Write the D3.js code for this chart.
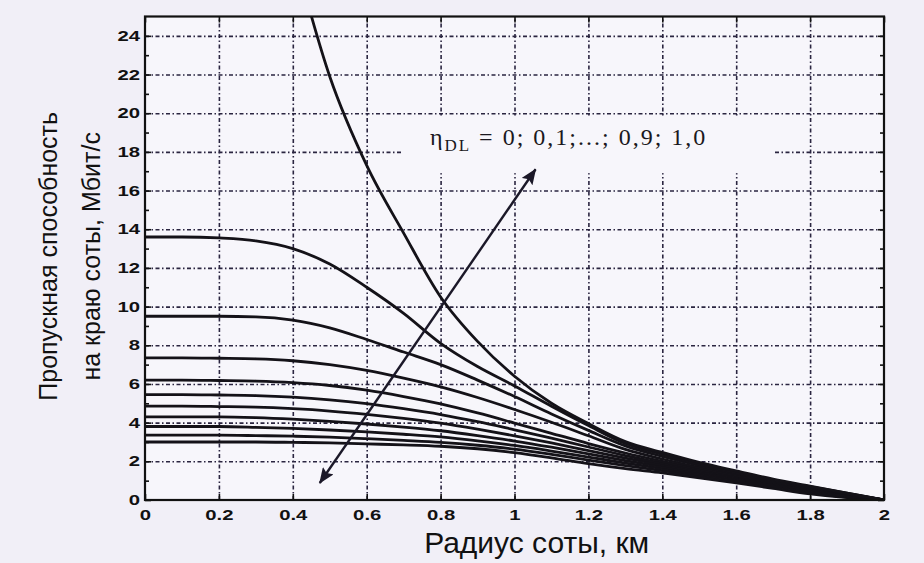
<!DOCTYPE html>
<html>
<head>
<meta charset="utf-8">
<script src="https://cdn.jsdelivr.net/npm/d3@7"></script>
<style>
    body { margin: 0; background: #f1eff7; }
    svg { display: block; }
</style>
</head>
<body>
<svg id="vis"></svg>
<script>
const WIDTH = 924;
const HEIGHT = 563;

// cell radius, km
const radius = [0, 0.1, 0.2, 0.3, 0.4, 0.5, 0.6, 0.7, 0.8, 0.9, 1.0, 1.1, 1.2, 1.3, 1.4, 1.5, 1.6, 1.7, 1.8, 1.9, 2.0];

// edge throughput, Mbit/s, one array per eta_DL
const eta00 = [3.0, 3.0, 3.0, 3.0, 2.98, 2.95, 2.9, 2.85, 2.78, 2.65, 2.45, 2.18, 1.88, 1.62, 1.4, 1.15, 0.88, 0.6, 0.32, 0.12, 0];
const eta01 = [3.35, 3.35, 3.35, 3.33, 3.3, 3.25, 3.17, 3.08, 2.98, 2.83, 2.63, 2.36, 2.06, 1.78, 1.52, 1.24, 0.95, 0.66, 0.38, 0.15, 0];
const eta02 = [3.8, 3.8, 3.8, 3.76, 3.7, 3.62, 3.52, 3.4, 3.26, 3.06, 2.82, 2.53, 2.22, 1.91, 1.62, 1.32, 1.02, 0.72, 0.43, 0.18, 0];
const eta03 = [4.3, 4.3, 4.3, 4.26, 4.18, 4.07, 3.93, 3.77, 3.58, 3.33, 3.05, 2.73, 2.38, 2.04, 1.72, 1.4, 1.08, 0.77, 0.48, 0.21, 0];
const eta04 = [4.85, 4.85, 4.83, 4.8, 4.72, 4.6, 4.43, 4.22, 3.97, 3.66, 3.32, 2.95, 2.55, 2.17, 1.82, 1.47, 1.13, 0.82, 0.52, 0.24, 0];
const eta05 = [5.45, 5.45, 5.43, 5.4, 5.32, 5.18, 4.98, 4.72, 4.42, 4.05, 3.63, 3.2, 2.74, 2.3, 1.91, 1.54, 1.18, 0.86, 0.56, 0.27, 0];
const eta06 = [6.2, 6.2, 6.18, 6.15, 6.07, 5.92, 5.68, 5.35, 4.97, 4.5, 3.98, 3.45, 2.92, 2.43, 2.0, 1.6, 1.23, 0.9, 0.6, 0.3, 0];
const eta07 = [7.35, 7.35, 7.33, 7.3, 7.2, 7.0, 6.7, 6.3, 5.85, 5.3, 4.68, 4.02, 3.32, 2.62, 2.12, 1.68, 1.29, 0.94, 0.63, 0.32, 0];
const eta08 = [9.5, 9.5, 9.5, 9.47, 9.3, 8.9, 8.3, 7.65, 7.0, 6.2, 5.35, 4.45, 3.6, 2.8, 2.25, 1.78, 1.36, 0.98, 0.66, 0.33, 0];
const eta09 = [13.6, 13.6, 13.55, 13.4, 13.0, 12.2, 11.0, 9.65, 8.1, 6.9, 5.9, 4.85, 3.85, 2.92, 2.36, 1.86, 1.42, 1.03, 0.69, 0.35, 0];
const eta10 = [null, null, null, null, 28.5, 21.9, 17.3, 13.8, 10.5, 8.2, 6.4, 5.0, 3.95, 3.02, 2.46, 1.94, 1.5, 1.08, 0.72, 0.36, 0];

const allSeries = [eta00, eta01, eta02, eta03, eta04, eta05, eta06, eta07, eta08, eta09, eta10];

const xTicks = [0, 0.2, 0.4, 0.6, 0.8, 1, 1.2, 1.4, 1.6, 1.8, 2];
const xTickLabels = ["0", "0.2", "0.4", "0.6", "0.8", "1", "1.2", "1.4", "1.6", "1.8", "2"];
const yTicks = [0, 2, 4, 6, 8, 10, 12, 14, 16, 18, 20, 22, 24];
const yMinorTicks = [1, 3, 5, 7, 9, 11, 13, 15, 17, 19, 21, 23];

const xTitle = "Радиус соты, км";
const yTitle1 = "Пропускная способность";
const yTitle2 = "на краю соты,  Мбит/с";
const noteText = " = 0; 0,1;...; 0,9; 1,0";

const x = d3.scaleLinear().domain([0, 2]).range([145, 884]);
const y = d3.scaleLinear().domain([0, 25]).range([500, 16.5]);

const svg = d3.select("#vis")
    .attr("width", WIDTH)
    .attr("height", HEIGHT);

// plot background
svg.append("rect")
    .attr("x", x(0)).attr("y", y(25))
    .attr("width", x(2) - x(0)).attr("height", y(0) - y(25))
    .attr("fill", "#f7f6fb");

svg.append("clipPath").attr("id", "plotclip")
    .append("rect")
    .attr("x", x(0)).attr("y", y(25))
    .attr("width", x(2) - x(0)).attr("height", y(0) - y(25));

// dotted grid
const gridStyle = function(g) {
    g.select(".domain").remove();
    g.selectAll("line")
        .attr("stroke", "#2a2540")
        .attr("stroke-width", 1.6)
        .attr("stroke-dasharray", "4,2.5,1.5,2.5");
};
svg.append("g")
    .attr("transform", "translate(0," + y(0) + ")")
    .call(d3.axisBottom(x).tickValues(xTicks.slice(1, -1)).tickSize(-(y(0) - y(25))).tickFormat(""))
    .call(gridStyle);
svg.append("g")
    .attr("transform", "translate(" + x(0) + ",0)")
    .call(d3.axisLeft(y).tickValues(yTicks.slice(1)).tickSize(-(x(2) - x(0))).tickFormat(""))
    .call(gridStyle);

// box behind the annotation (hides grid there)
svg.append("rect")
    .attr("x", x(0.697)).attr("y", y(19.85))
    .attr("width", x(1.705) - x(0.697)).attr("height", y(16.9) - y(19.85))
    .attr("fill", "#f7f6fb");

// curves
const line = d3.line()
    .defined(function(d) { return d[1] !== null; })
    .x(function(d) { return x(d[0]); })
    .y(function(d) { return y(d[1]); })
    .curve(d3.curveMonotoneX);

svg.append("g")
    .attr("clip-path", "url(#plotclip)")
    .selectAll("path")
    .data(allSeries)
    .enter()
    .append("path")
    .attr("d", function(s) {
        return line(s.map(function(v, i) { return [radius[i], v]; }));
    })
    .attr("fill", "none")
    .attr("stroke", "#141218")
    .attr("stroke-width", 2.8)
    .attr("stroke-linejoin", "round");

// ticks (labels of the scan are wide, so stretch them sideways)
const TICK_STRETCH = 1.45;
const tickStyle = function(g) {
    g.select(".domain").remove();
    g.selectAll("line").attr("stroke", "#111").attr("stroke-width", 1.6);
    g.selectAll("text")
        .attr("fill", "#111")
        .attr("transform", "scale(" + TICK_STRETCH + ",1)")
        .style("font-family", "'Liberation Sans', Arial, sans-serif")
        .style("font-size", "14px")
        .style("font-weight", "bold");
};
svg.append("g")
    .attr("transform", "translate(0," + y(0) + ")")
    .call(d3.axisBottom(x).tickValues(xTicks).tickSize(-6).tickPadding(10)
        .tickFormat(function(d, i) { return xTickLabels[i]; }))
    .call(tickStyle);
svg.append("g")
    .attr("transform", "translate(0," + y(25) + ")")
    .call(d3.axisTop(x).tickValues(xTicks).tickSize(-6).tickFormat(""))
    .call(tickStyle);
svg.append("g")
    .attr("transform", "translate(" + x(0) + ",0)")
    .call(d3.axisLeft(y).tickValues(yTicks).tickSize(-6).tickPadding(5 / TICK_STRETCH))
    .call(tickStyle);
svg.append("g")
    .attr("transform", "translate(" + x(0) + ",0)")
    .call(d3.axisLeft(y).tickValues(yMinorTicks).tickSize(-4).tickFormat(""))
    .call(tickStyle);
svg.append("g")
    .attr("transform", "translate(" + x(2) + ",0)")
    .call(d3.axisRight(y).tickValues(yTicks).tickSize(-6).tickFormat(""))
    .call(tickStyle);
svg.append("g")
    .attr("transform", "translate(" + x(2) + ",0)")
    .call(d3.axisRight(y).tickValues(yMinorTicks).tickSize(-4).tickFormat(""))
    .call(tickStyle);

// frame
svg.append("rect")
    .attr("x", x(0)).attr("y", y(25))
    .attr("width", x(2) - x(0)).attr("height", y(0) - y(25))
    .attr("fill", "none")
    .attr("stroke", "#111")
    .attr("stroke-width", 2.2);

// double arrow
svg.append("defs").append("marker")
    .attr("id", "head")
    .attr("viewBox", "0 0 16 13")
    .attr("refX", 15).attr("refY", 6.5)
    .attr("markerWidth", 16).attr("markerHeight", 13)
    .attr("markerUnits", "userSpaceOnUse")
    .attr("orient", "auto-start-reverse")
    .append("path")
    .attr("d", "M0,0 L16,6.5 L0,13 L3,6.5 z")
    .attr("fill", "#1b1828");

svg.append("line")
    .attr("x1", x(0.473)).attr("y1", y(0.88))
    .attr("x2", x(1.057)).attr("y2", y(17.1))
    .attr("stroke", "#1b1828")
    .attr("stroke-width", 2.4)
    .attr("marker-start", "url(#head)")
    .attr("marker-end", "url(#head)");

// annotation
const note = svg.append("text")
    .attr("x", x(0.771)).attr("y", y(18.36))
    .attr("fill", "#1a1820")
    .style("font-family", "'Liberation Serif', 'Times New Roman', serif")
    .style("font-size", "24px")
    .style("letter-spacing", "2px");
note.append("tspan").text("η");
note.append("tspan").attr("dy", 6).style("font-size", "17px").text("DL");
note.append("tspan").attr("dy", -6).text(noteText);

// axis titles
svg.append("text")
    .attr("x", x(1.06)).attr("y", 553)
    .attr("text-anchor", "middle")
    .attr("fill", "#111")
    .style("font-family", "'Liberation Sans', Arial, sans-serif")
    .style("font-size", "30px")
    .text(xTitle);

svg.append("text")
    .attr("transform", "translate(57," + y(12.6) + ") rotate(-90)")
    .attr("text-anchor", "middle")
    .attr("fill", "#111")
    .style("font-family", "'Liberation Sans', Arial, sans-serif")
    .style("font-size", "25px")
    .text(yTitle1);
svg.append("text")
    .attr("transform", "translate(100," + y(12.6) + ") rotate(-90)")
    .attr("text-anchor", "middle")
    .attr("fill", "#111")
    .style("font-family", "'Liberation Sans', Arial, sans-serif")
    .style("font-size", "25px")
    .text(yTitle2);
</script>
</body>
</html>
